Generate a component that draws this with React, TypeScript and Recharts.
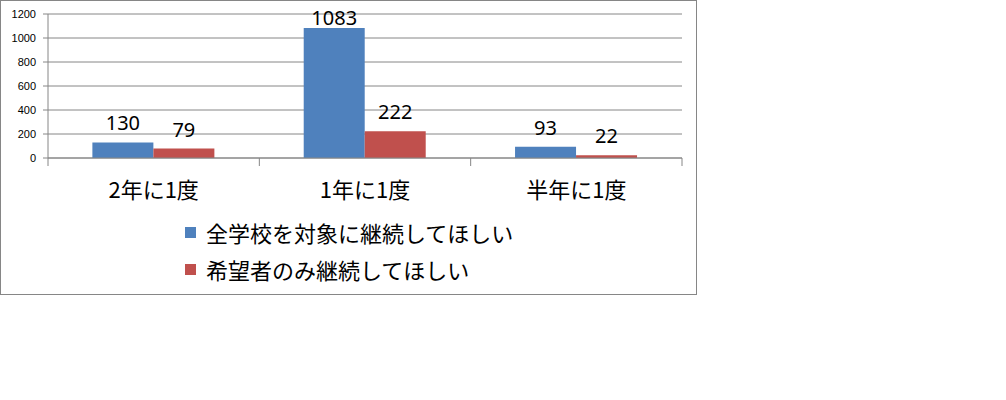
import { BarChart, Bar, XAxis, YAxis, CartesianGrid, Legend, LabelList } from "recharts";

const categories = ["2年に1度", "1年に1度", "半年に1度"];
const allSchools = [130, 1083, 93];
const applicantsOnly = [79, 222, 22];
const yTicks = [0, 200, 400, 600, 800, 1000, 1200];

const seriesNames = {
    all: "全学校を対象に継続してほしい",
    applicants: "希望者のみ継続してほしい",
};

const chartData = categories.map((name, i) => ({
    name,
    all: allSchools[i],
    applicants: applicantsOnly[i],
}));

const GRID = "#868686";
const CJK = "'Noto Sans CJK JP', sans-serif";
const PLOT_TOP = 14;

// Excel-style category axis: ticks sit on the category boundaries, not centers
const CategoryTick = (props: any) => {
    const { x, y, payload, index, visibleTicksCount } = props;
    const half = payload.offset || 0;
    const last = index === visibleTicksCount - 1;
    return (
        <g>
            <line x1={x - half} x2={x - half} y1={y} y2={y + 8} stroke={GRID} />
            {last && <line x1={x + half} x2={x + half} y1={y} y2={y + 8} stroke={GRID} />}
            <text x={x} y={y + 40} textAnchor="middle" fontSize={22} fontFamily={CJK} fill="#000">
                {payload.value}
            </text>
        </g>
    );
};

const ValueLabel = (props: any) => {
    const { x, y, width, value } = props;
    const ty = Math.max(y - 12, PLOT_TOP + 11);
    return (
        <text x={x + width / 2} y={ty} textAnchor="middle" fontSize={20} fontFamily="'Noto Sans', sans-serif" fill="#000">
            {value}
        </text>
    );
};

const LegendBox = ({ payload }: any) => (
    <div>
        {(payload || []).map((entry: any) => (
            <div key={entry.value} style={{ display: "flex", alignItems: "center", height: 37 }}>
                <span style={{ width: 11, height: 11, background: entry.color, display: "inline-block", marginRight: 10 }} />
                <span style={{ fontSize: 22, fontFamily: CJK, color: "#000", lineHeight: "37px" }}>{entry.value}</span>
            </div>
        ))}
    </div>
);

export default function App() {
    return (
        <div style={{ position: "absolute", left: 0, top: 0, width: 1006, height: 400, background: "#fff" }}>
            <BarChart
                width={697}
                height={295}
                data={chartData}
                margin={{ top: PLOT_TOP, right: 15, left: 0, bottom: 0 }}
                barCategoryGap="21%"
                barGap={0}
                style={{ position: "absolute", left: 0, top: 0 }}
            >
                <CartesianGrid vertical={false} stroke={GRID} />
                <XAxis
                    dataKey="name"
                    height={137}
                    interval={0}
                    tickSize={0}
                    tickMargin={0}
                    tickLine={false}
                    axisLine={{ stroke: GRID }}
                    tick={<CategoryTick />}
                />
                <YAxis
                    width={48}
                    domain={[0, 1200]}
                    ticks={yTicks}
                    interval={0}
                    tickSize={5}
                    tickMargin={7}
                    tickLine={{ stroke: GRID }}
                    axisLine={{ stroke: GRID }}
                    tick={{ fontSize: 11, fill: "#000", fontFamily: "'Liberation Sans', sans-serif" }}
                />
                <Legend
                    layout="vertical"
                    align="center"
                    verticalAlign="middle"
                    content={<LegendBox />}
                    wrapperStyle={{ position: "absolute", top: 214, left: 185, width: "auto" }}
                />
                <Bar dataKey="all" name={seriesNames.all} fill="#4F81BD" isAnimationActive={false}>
                    <LabelList dataKey="all" content={<ValueLabel />} />
                </Bar>
                <Bar dataKey="applicants" name={seriesNames.applicants} fill="#C0504D" isAnimationActive={false}>
                    <LabelList dataKey="applicants" content={<ValueLabel />} />
                </Bar>
            </BarChart>
            <div
                style={{
                    position: "absolute",
                    left: 0,
                    top: 0,
                    width: 697,
                    height: 295,
                    border: `1px solid ${GRID}`,
                    boxSizing: "border-box",
                    pointerEvents: "none",
                }}
            />
        </div>
    );
}
